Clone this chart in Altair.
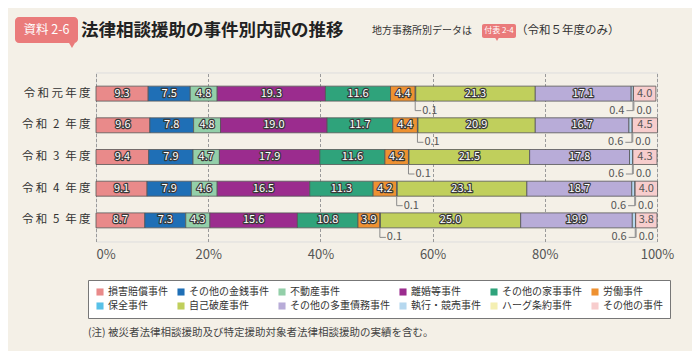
import altair as alt
import pandas as pd

FONT = "Noto Sans CJK JP"

years = ["令\u2009和\u2009元\u2009年\u2009度",
         "令\u2009和\u20022\u2002年\u2009度",
         "令\u2009和\u20023\u2002年\u2009度",
         "令\u2009和\u20024\u2002年\u2009度",
         "令\u2009和\u20025\u2002年\u2009度"]

categories = ["損害賠償事件", "その他の金銭事件", "不動産事件", "離婚等事件", "その他の家事事件", "労働事件",
              "保全事件", "自己破産事件", "その他の多重債務事件", "執行・競売事件", "ハーグ条約事件", "その他の事件"]

colors = ["#e98a8a", "#1f6fb6", "#93cfa9", "#9b2c8e", "#2fa37b", "#ee9131",
          "#58c1e8", "#c0cf5c", "#b8acd8", "#b6d8ef", "#f4efb2", "#f7cdcd"]

r1 = [9.3, 7.5, 4.8, 19.3, 11.6, 4.4, 0.1, 21.3, 17.1, 0.4, 0.0, 4.0]
r2 = [9.6, 7.8, 4.8, 19.0, 11.7, 4.4, 0.1, 20.9, 16.7, 0.6, 0.0, 4.5]
r3 = [9.4, 7.9, 4.7, 17.9, 11.6, 4.2, 0.1, 21.5, 17.8, 0.6, 0.0, 4.3]
r4 = [9.1, 7.9, 4.6, 16.5, 11.3, 4.2, 0.1, 23.1, 18.7, 0.6, 0.0, 4.0]
r5 = [8.7, 7.3, 4.3, 15.6, 10.8, 3.9, 0.1, 25.0, 19.9, 0.6, 0.0, 3.8]
rows = [r1, r2, r3, r4, r5]

x_ticks = [0, 20, 40, 60, 80, 100]

title_text = "法律相談援助の事件別内訳の推移"
badge_text = "資料 2-6"
sub_text1 = "地方事務所別データは"
sub_badge = "付表 2-4"
sub_text2 = "（令和５年度のみ）"
note_text = "(注) 被災者法律相談援助及び特定援助対象者法律相談援助の実績を含む。"

recs = []
for y, vals in zip(years, rows):
    cum = 0.0
    for i, (c, v) in enumerate(zip(categories, vals)):
        recs.append({"year": y, "category": c, "idx": i, "value": v,
                     "start": cum, "end": cum + v, "mid": cum + v / 2})
        cum += v
df = pd.DataFrame(recs)

W, H = 561, 169

yenc = alt.Y("year:N", sort=years, title=None,
             scale=alt.Scale(paddingInner=0.527, paddingOuter=0.43),
             axis=alt.Axis(labelFontSize=11.5, labelColor="#333", labelPadding=6,
                           domain=False, ticks=False, labelFont=FONT))

xenc = alt.X("start:Q", title=None,
             scale=alt.Scale(domain=[0, 100], nice=False),
             axis=alt.Axis(values=x_ticks, labelExpr="datum.value + '%'",
                           labelFontSize=13, labelColor="#555", labelPadding=7,
                           labelFlush=False,
                           labelAlign={"condition": {"test": "datum.value == 0", "value": "left"},
                                       "value": "center"},
                           domain=False, ticks=False, grid=True,
                           gridColor="#9a9a9a", gridDash=[3, 2], gridWidth=1,
                           labelFont=FONT))

bars = alt.Chart(df).mark_bar(stroke="#555", strokeWidth=0.8).encode(
    x=xenc,
    x2="end:Q",
    y=yenc,
    color=alt.Color("category:N",
                    scale=alt.Scale(domain=categories, range=colors),
                    legend=alt.Legend(title=None, orient="none", legendX=-8, legendY=207.5,
                                      direction="horizontal", columns=6,
                                      symbolType="square", symbolSize=50, symbolStrokeWidth=0,
                                      labelFontSize=10, labelColor="#333", labelFont=FONT,
                                      labelOffset=3, columnPadding=8, rowPadding=4,
                                      padding=7, fillColor="white", strokeColor="#777",
                                      labelLimit=300)),
    order="idx:Q",
)

lab = df[(df["value"] >= 1) & (df["category"] != "その他の事件")]
pink = df[df["category"] == "その他の事件"]

ysimple = alt.Y("year:N", sort=years)
txt = alt.Text("value:Q", format=".1f")

lab_stroke = alt.Chart(lab).mark_text(fontSize=11, font=FONT, stroke="#3a3a3a", strokeWidth=2.4,
                                      strokeJoin="round", fill="#3a3a3a").encode(
    x="mid:Q", y=ysimple, text=txt)
lab_fill = alt.Chart(lab).mark_text(fontSize=11, font=FONT, fill="white").encode(
    x="mid:Q", y=ysimple, text=txt)
pink_lab = alt.Chart(pink).mark_text(fontSize=11, font=FONT, fill="#555").encode(
    x="mid:Q", y=ysimple, text=txt)

hozen = df[df["category"] == "保全事件"]
shikko = df[df["category"] == "執行・競売事件"]
hague = df[df["category"] == "ハーグ条約事件"]

lead_col = "#8a8a8a"
v1 = alt.Chart(hozen).mark_rule(color=lead_col, strokeWidth=1, yOffset=7.5, y2Offset=17).encode(
    x="start:Q", y=ysimple, y2=alt.Y2("year"))
h1 = alt.Chart(hozen).mark_rule(color=lead_col, strokeWidth=1, yOffset=17, y2Offset=17, x2Offset=6).encode(
    x="start:Q", x2=alt.X2("start"), y=ysimple)
t1 = alt.Chart(hozen).mark_text(fontSize=11, font=FONT, fill="#555", align="left", dx=7, dy=17).encode(
    x="start:Q", y=ysimple, text=txt)

v2 = alt.Chart(hague).mark_rule(color="#999", strokeWidth=2, yOffset=7.5, y2Offset=17).encode(
    x="start:Q", y=ysimple, y2=alt.Y2("year"))
h2 = alt.Chart(hague).mark_rule(color=lead_col, strokeWidth=1, yOffset=17, y2Offset=17, x2Offset=-7).encode(
    x="start:Q", x2=alt.X2("start"), y=ysimple)
t2 = alt.Chart(shikko).mark_text(fontSize=11, font=FONT, fill="#555", align="right", dx=-9, dy=17).encode(
    x="end:Q", y=ysimple, text=txt)
t3 = alt.Chart(hague).mark_text(fontSize=11, font=FONT, fill="#555", align="left", dx=3, dy=17).encode(
    x="start:Q", y=ysimple, text=txt)

# header elements (positions relative to plot origin)
badge_col = "#ea7b7b"
hdr = pd.DataFrame({"t": [badge_text]})
badge = alt.Chart(hdr).mark_rect(color=badge_col, cornerRadius=4).encode(
    x=alt.value(-81), x2=alt.value(-18), y=alt.value(-55.5), y2=alt.value(-29.5))
badge_tail = alt.Chart(hdr).mark_point(shape="triangle-down", filled=True, color=badge_col,
                                       opacity=1, size=35).encode(
    x=alt.value(-24), y=alt.value(-27))
badge_t = alt.Chart(hdr).mark_text(fontSize=12.5, font=FONT, fill="white").encode(
    x=alt.value(-49.5), y=alt.value(-42.5), text="t:N")
title_t = alt.Chart(pd.DataFrame({"t": [title_text]})).mark_text(
    fontSize=17.5, font=FONT, fontWeight="bold", fill="#222", align="left").encode(
    x=alt.value(-15), y=alt.value(-41.5), text="t:N")
sub1 = alt.Chart(pd.DataFrame({"t": [sub_text1]})).mark_text(
    fontSize=10, font=FONT, fill="#333", align="left").encode(
    x=alt.value(276), y=alt.value(-41.5), text="t:N")
sbadge = alt.Chart(pd.DataFrame({"t": [sub_badge]})).mark_rect(color=badge_col, cornerRadius=2).encode(
    x=alt.value(386), x2=alt.value(420), y=alt.value(-48.5), y2=alt.value(-34.5))
sbadge_tail = alt.Chart(pd.DataFrame({"t": [sub_badge]})).mark_point(
    shape="triangle-down", filled=True, color=badge_col, opacity=1, size=12).encode(
    x=alt.value(401), y=alt.value(-33))
sbadge_t = alt.Chart(pd.DataFrame({"t": [sub_badge]})).mark_text(
    fontSize=8, font=FONT, fill="white").encode(
    x=alt.value(403), y=alt.value(-41.5), text="t:N")
sub2 = alt.Chart(pd.DataFrame({"t": [sub_text2]})).mark_text(
    fontSize=11.5, font=FONT, fill="#333", align="left").encode(
    x=alt.value(420), y=alt.value(-41.5), text="t:N")
note = alt.Chart(pd.DataFrame({"t": [note_text]})).mark_text(
    fontSize=10.5, font=FONT, fill="#444", align="left").encode(
    x=alt.value(-8), y=alt.value(260.5), text="t:N")

chart = alt.layer(
    bars, lab_stroke, lab_fill, pink_lab,
    v1, h1, t1, v2, h2, t2, t3,
    badge, badge_tail, badge_t, title_t, sub1, sbadge, sbadge_tail, sbadge_t, sub2, note,
).properties(
    width=W, height=H,
    autosize=alt.AutoSizeParams(type="none"),
    padding={"left": 88, "top": 64.5, "right": 35, "bottom": 109.5},
    background="#f4f0e7",
).configure_view(
    stroke="#888", fill="white", strokeWidth=1
).configure(
    font=FONT
)

chart.save("out.html", embed_options={"renderer": "svg", "actions": False})
